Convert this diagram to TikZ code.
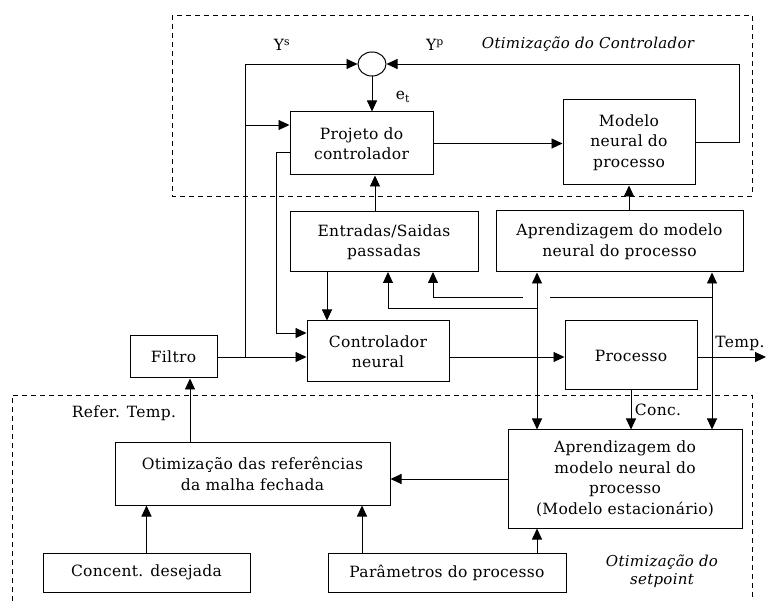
\documentclass[tikz,border=0pt]{standalone}
\usepackage{fontspec}
\setmainfont{DejaVu Serif}[LetterSpace=2]
\usetikzlibrary{arrows.meta,shapes.geometric}
\begin{document}
\begin{tikzpicture}[x=1pt,y=-1pt,
 blk/.style={draw, line width=1pt, inner sep=0pt, align=center, font=\fontsize{15.5}{20.5}\selectfont},
 arr/.style={line width=0.9pt, -{Triangle[length=11pt,width=10pt]}},
 ln/.style={line width=0.9pt},
 grp/.style={line width=0.8pt, dash pattern=on 5pt off 4pt},
 lbl/.style={inner sep=0pt, font=\fontsize{15.5}{20}\selectfont},
 ilbl/.style={inner sep=0pt, align=center, font=\itshape\fontsize{15}{18}\selectfont}]
\useasboundingbox (0,0) rectangle (766,601);

\draw[grp] (172,15) rectangle (752,196);
\draw[grp] (12,601) -- (12,395) -- (752,395) -- (752,601);

\node[draw, ellipse, line width=1pt, minimum width=28pt, minimum height=24pt, inner sep=0pt] (sum) at (372,64) {};
\node[blk, minimum width=143pt, minimum height=63pt] (proj) at (361.5,143.5) {Projeto do\\controlador};
\node[blk, minimum width=132pt, minimum height=85pt] (mod) at (629,142.5) {Modelo\\neural do\\processo};
\node[blk, minimum width=188pt, minimum height=60pt] (es) at (384,242) {Entradas/Saidas\\passadas};
\node[blk, minimum width=247pt, minimum height=61pt] (apr) at (619.5,241.5) {Aprendizagem do modelo\\neural do processo};
\node[blk, minimum width=87pt, minimum height=42pt] (filt) at (173.5,357) {Filtro};
\node[blk, minimum width=142pt, minimum height=61pt] (ctrl) at (378,351.5) {Controlador\\neural};
\node[blk, minimum width=132pt, minimum height=69pt] (proc) at (631,355.5) {Processo};
\node[blk, minimum width=275pt, minimum height=62pt] (otim) at (252.5,474) {Otimização das referências\\da malha fechada};
\node[blk, minimum width=234pt, minimum height=98pt] (est) at (625,479) {Aprendizagem do\\modelo neural do\\processo\\(Modelo estacionário)};
\node[blk, minimum width=207pt, minimum height=39pt] (conc) at (146.5,572.5) {Concent. desejada};
\node[blk, minimum width=238pt, minimum height=39pt] (par) at (447,572.5) {Parâmetros do processo};

\coordinate (jf) at (245,357);
\coordinate (ys) at (245,64);
\coordinate (yp) at (245,125);
\coordinate (pa) at (276,152);
\coordinate (pb) at (276,333);
\coordinate (u) at (537,357);
\coordinate (u1) at (537,308);
\coordinate (t) at (712,357);
\coordinate (t1) at (712,297);
\coordinate (g1) at (550,297);
\coordinate (g2) at (523,297);
\coordinate (ea) at (388,272);
\coordinate (eb) at (433,272);
\coordinate (fb) at (739,64);
\coordinate (te) at (766,357);
\coordinate (xa) at (375,0);
\coordinate (xb) at (327,0);
\coordinate (xf) at (190,0);
\coordinate (xp) at (362,0);

\draw[arr] (filt.east) -- (filt.east -| ctrl.west);
\draw[arr] (jf) -- (ys) -- (sum.west);
\draw[arr] (yp) -- (yp -| proj.west);
\draw[arr] (proj.west |- pa) -- (pa) -- (pb) -- (pb -| ctrl.west);
\draw[arr] (sum.south) -- (sum.south |- proj.north);
\draw[arr] (proj.east) -- (proj.east -| mod.west);
\draw[arr] (mod.east) -| (fb) -- (sum.east);
\draw[arr] (es.north -| xa) -- (proj.south -| xa);
\draw[arr] (es.south -| xb) -- (ctrl.north -| xb);
\draw[arr] (apr.north -| mod.south) -- (mod.south);
\draw[arr] (ctrl.east |- u) -- (u -| proc.west);
\draw[arr] (u) -- (u |- apr.south);
\draw[arr] (u) -- (u |- est.north);
\draw[arr] (u1) -| (ea);
\draw[arr] (proc.east |- t) -- (te);
\draw[arr] (t) -- (t |- apr.south);
\draw[arr] (t) -- (t |- est.north);
\draw[ln] (t1) -- (g1);
\draw[arr] (g2) -| (eb);
\draw[arr] (proc.south) -- (proc.south |- est.north);
\draw[arr] (otim.north -| xf) -- (filt.south -| xf);
\draw[arr] (est.west) -- (est.west -| otim.east);
\draw[arr] (conc.north) -- (conc.north |- otim.south);
\draw[arr] (par.north -| xp) -- (otim.south -| xp);
\draw[arr] (par.north -| u) -- (est.south -| u);

\node[lbl] (lys) at (282,45) {Y\textsuperscript{s}};
\node[lbl] (lyp) at (435,45) {Y\textsuperscript{p}};
\node[ilbl] (loc) at (588,44) {Otimização do Controlador};
\node[lbl] (let) at (403,97) {e\textsubscript{t}};
\node[lbl] (ltemp) at (740,343) {Temp.};
\node[lbl] (lconc) at (658,410) {Conc.};
\node[lbl] (lref) at (124,413) {Refer. Temp.};
\node[ilbl] (lsp) at (662,571) {Otimização do\\setpoint};
\end{tikzpicture}
\end{document}
